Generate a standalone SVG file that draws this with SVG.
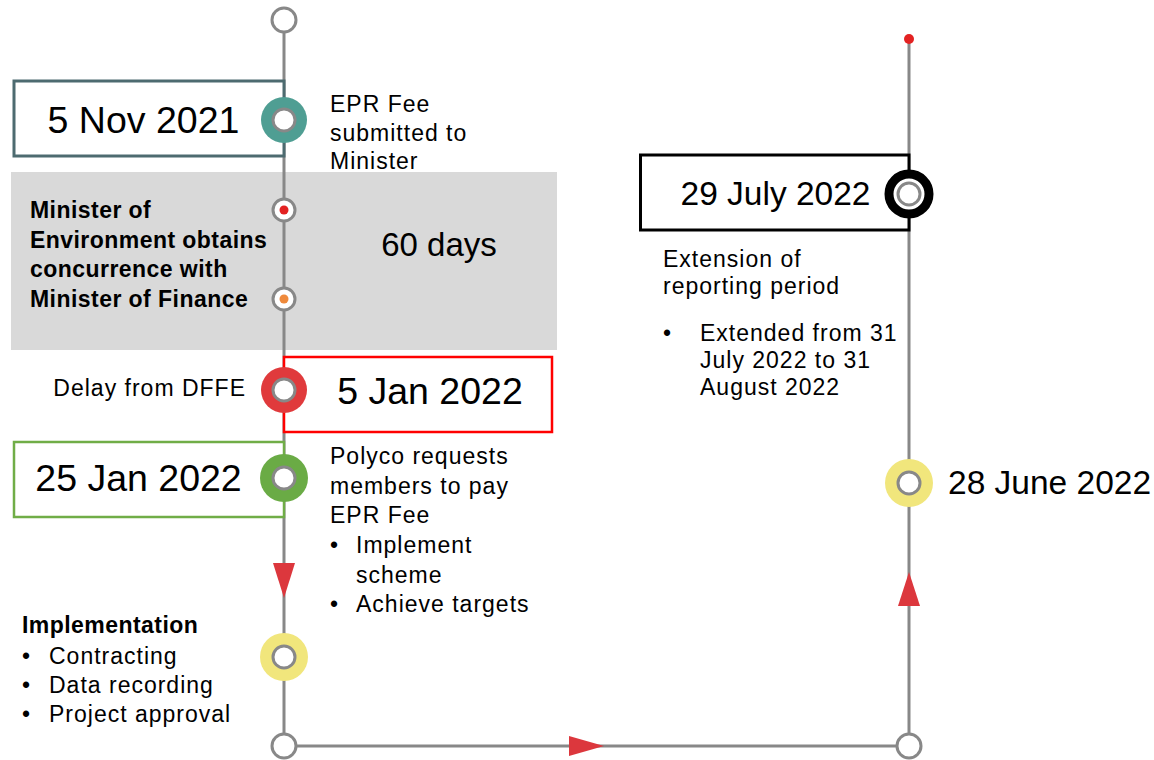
<svg xmlns="http://www.w3.org/2000/svg" width="1154" height="760" viewBox="0 0 1154 760">
<defs>
<style>
text{font-family:"Liberation Sans",Arial,sans-serif;fill:#000}
.date{font-size:37.5px;text-anchor:middle}
.date2{font-size:33.5px;text-anchor:middle}
.t{font-size:23px;letter-spacing:1px}
.b{font-size:23px;font-weight:bold;letter-spacing:0.45px}
.line{stroke:#888;stroke-width:3;fill:none}
.inner{fill:#fff;stroke:#888;stroke-width:3}
.arrow{fill:#dc373d}
</style>
</defs>
<rect width="1154" height="760" fill="#fff"/>
<g id="period-box">
<rect x="11" y="172" width="546" height="178" fill="#d9d9d9"/>
<text class="b" x="30" y="218">Minister of</text>
<text class="b" x="30" y="247.5">Environment obtains</text>
<text class="b" x="30" y="277">concurrence with</text>
<text class="b" x="30" y="306.5">Minister of Finance</text>
<text x="439" y="256" style="font-size:33px;text-anchor:middle">60 days</text>
</g>
<g id="connectors">
<line class="line" x1="284" y1="32" x2="284" y2="734"/>
<line class="line" x1="296" y1="746" x2="897" y2="746"/>
<line class="line" x1="909" y1="39" x2="909" y2="734"/>
<polygon class="arrow" points="273,563 295,563 284,598"/>
<polygon class="arrow" points="569,736 569,756 604,746"/>
<polygon class="arrow" points="898,606 920,606 909,572"/>
</g>
<g id="start">
<circle class="inner" cx="284" cy="20" r="12"/>
</g>
<g id="nov2021">
<rect x="14" y="81" width="270" height="75" fill="#fff" stroke="#4d6b70" stroke-width="3"/>
<text class="date" x="143.5" y="133">5 Nov 2021</text>
<circle cx="284" cy="120" r="23" fill="#4f9e93"/>
<circle class="inner" cx="284" cy="120" r="11"/>
<text class="t" x="330" y="112">EPR Fee</text>
<text class="t" x="330" y="141">submitted to</text>
<text class="t" x="330" y="169">Minister</text>
</g>
<g id="dot-red">
<circle class="inner" cx="284" cy="210" r="11"/>
<circle cx="284" cy="210" r="4.5" fill="#e32222"/>
</g>
<g id="dot-orange">
<circle class="inner" cx="284" cy="299" r="11"/>
<circle cx="284" cy="299" r="4.5" fill="#ef8a3c"/>
</g>
<g id="jan5">
<rect x="284" y="357" width="268" height="75" fill="#fff" stroke="#ff0000" stroke-width="2.5"/>
<text class="date" x="430" y="404">5 Jan 2022</text>
<circle cx="284" cy="390" r="23" fill="#e03a3c"/>
<circle class="inner" cx="284" cy="390" r="11"/>
<text class="t" x="246" y="396" text-anchor="end">Delay from DFFE</text>
</g>
<g id="jan25">
<rect x="14" y="442" width="270" height="75" fill="#fff" stroke="#70ad47" stroke-width="2.5"/>
<text class="date" x="138.5" y="491">25 Jan 2022</text>
<circle cx="284" cy="478" r="24" fill="#6aab45"/>
<circle class="inner" cx="284" cy="478" r="11"/>
<text class="t" x="330" y="464">Polyco requests</text>
<text class="t" x="330" y="494">members to pay</text>
<text class="t" x="330" y="523">EPR Fee</text>
<text class="t" x="330" y="553">•</text>
<text class="t" x="356" y="553">Implement</text>
<text class="t" x="356" y="583">scheme</text>
<text class="t" x="330" y="612">•</text>
<text class="t" x="356" y="612">Achieve targets</text>
</g>
<g id="implementation">
<circle cx="284" cy="657" r="24" fill="#f1e67c"/>
<circle class="inner" cx="284" cy="657" r="11"/>
<text class="b" x="22" y="633">Implementation</text>
<text class="t" x="22" y="664">•</text>
<text class="t" x="49" y="664">Contracting</text>
<text class="t" x="22" y="693">•</text>
<text class="t" x="49" y="693">Data recording</text>
<text class="t" x="22" y="722">•</text>
<text class="t" x="49" y="722">Project approval</text>
</g>
<g id="corner-left">
<circle class="inner" cx="284" cy="746" r="12"/>
</g>
<g id="corner-right">
<circle class="inner" cx="909" cy="746" r="12"/>
</g>
<g id="june2022">
<circle cx="909" cy="483" r="24" fill="#f1e67c"/>
<circle class="inner" cx="909" cy="483" r="11"/>
<text class="date2" x="948" y="494" style="text-anchor:start">28 June 2022</text>
</g>
<g id="july2022">
<rect x="640.5" y="155" width="268.5" height="75" fill="#fff" stroke="#000" stroke-width="3"/>
<text class="date2" x="775.5" y="205">29 July 2022</text>
<circle cx="909" cy="194" r="20" fill="#fff" stroke="#000" stroke-width="9"/>
<circle class="inner" cx="909" cy="194" r="11" stroke="#999"/>
<text class="t" x="663" y="267">Extension of</text>
<text class="t" x="663" y="294">reporting period</text>
<text class="t" x="663" y="341">•</text>
<text class="t" x="700" y="341">Extended from 31</text>
<text class="t" x="700" y="368">July 2022 to 31</text>
<text class="t" x="700" y="395">August 2022</text>
</g>
<g id="end">
<circle cx="909" cy="39" r="5" fill="#e32222"/>
</g>
</svg>
